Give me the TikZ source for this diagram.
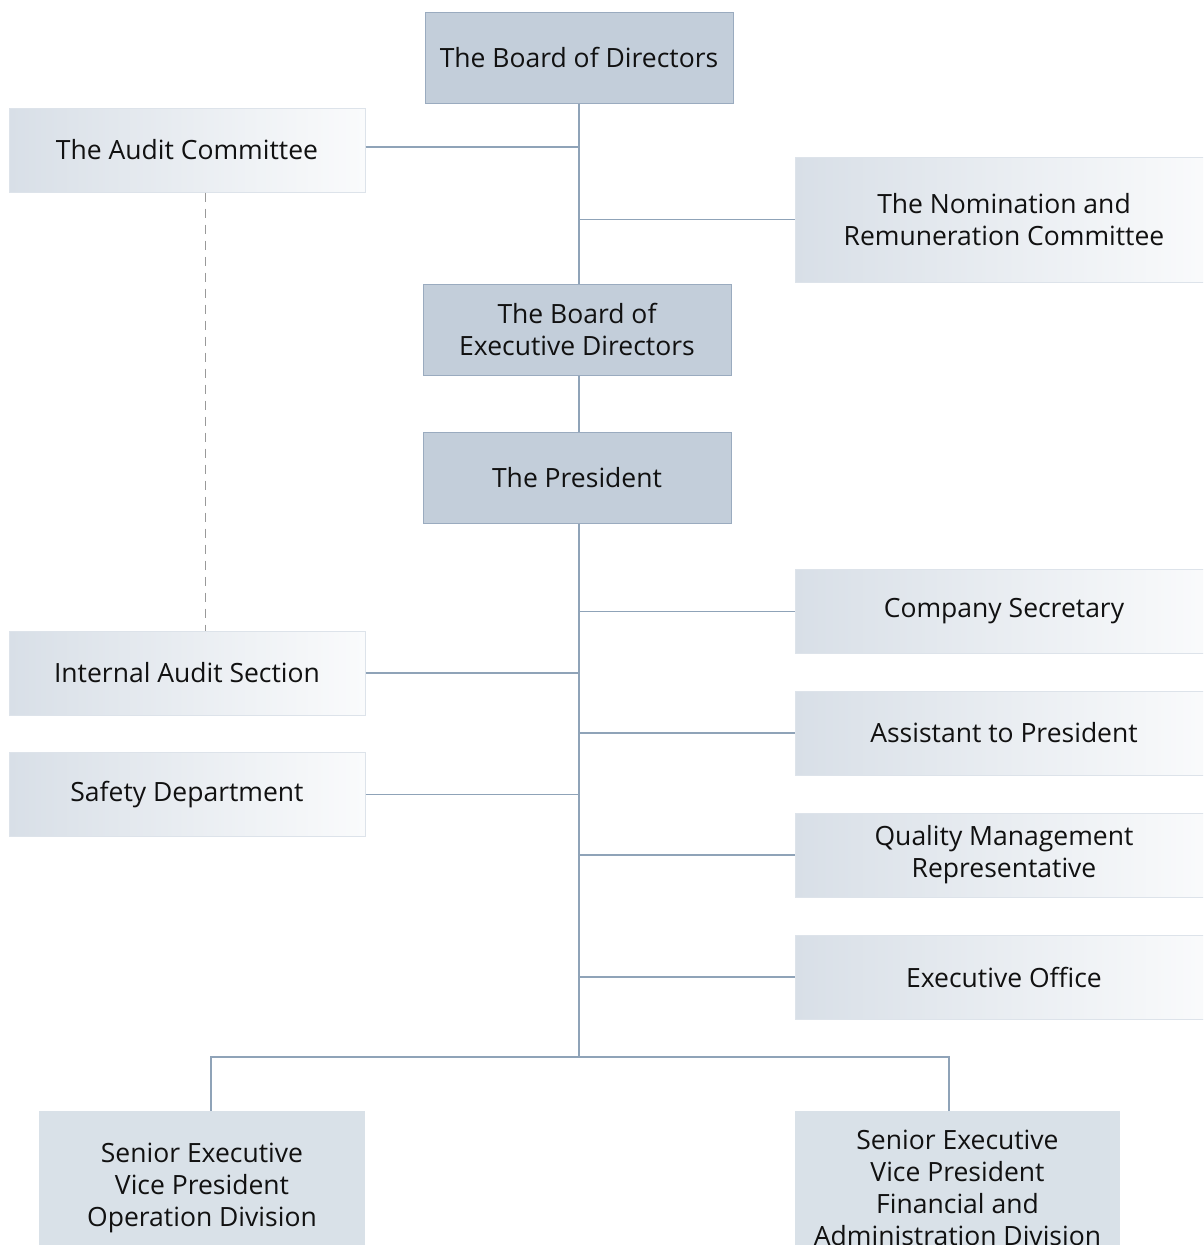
\documentclass[tikz,border=0pt]{standalone}
\usepackage{fontspec}
\setmainfont{Open Sans}
\definecolor{topfill}{HTML}{C3CEDA}
\definecolor{topline}{HTML}{9AABBF}
\definecolor{sideleft}{HTML}{D8DFE7}
\definecolor{sideright}{HTML}{FAFBFC}
\definecolor{sideline}{HTML}{DDE3EA}
\definecolor{botfill}{HTML}{D9E1E8}
\definecolor{wire}{HTML}{8FA3B8}
\definecolor{ink}{HTML}{111111}
\tikzset{
  every node/.style={font=\fontsize{26.5}{32}\selectfont, text=ink, align=center, inner sep=0pt},
  topbox/.style={draw=topline, fill=topfill, line width=1pt, minimum width=308pt, minimum height=91pt},
  sidebox/.style={draw=sideline, left color=sideleft, right color=sideright, line width=1pt, minimum height=84pt},
  leftbox/.style={sidebox, minimum width=356pt},
  rightbox/.style={sidebox, minimum width=418pt},
  botbox/.style={fill=botfill, minimum width=326pt, minimum height=154pt},
  wire/.style={draw=wire, line width=1.2pt},
  dashwire/.style={draw=black!40, line width=1pt, dash pattern=on 9pt off 7pt}
}
\begin{document}
\begin{tikzpicture}[x=1pt,y=-1pt]
  \clip (0,0) rectangle (1203,1245);
  % board level
  \node[topbox] (board) at (579,57.5) {The Board of Directors};
  \node[leftbox] (audit) at (187,150) {The Audit Committee};
  \node[rightbox, minimum height=125pt] (nomination) at (1004,219.5) {The Nomination and\\Remuneration Committee};
  \node[topbox] (execboard) at (577,329.5) {The Board of\\Executive Directors};
  \node[topbox] (president) at (577,477.5) {The President};
  % units under the president
  \node[rightbox] (secretary) at (1004,611.5) {Company Secretary};
  \node[leftbox] (internal) at (187,673) {Internal Audit Section};
  \node[rightbox] (assistant) at (1004,733) {Assistant to President};
  \node[leftbox] (safety) at (187,794.5) {Safety Department};
  \node[rightbox] (quality) at (1004,855) {Quality Management\\Representative};
  \node[rightbox] (office) at (1004,977) {Executive Office};
  % division heads
  \node[botbox] (operation) at (202,1188) {Senior Executive\\Vice President\\Operation Division};
  \node[botbox, minimum width=325pt] (finance) at (957.5,1188) {Senior Executive\\Vice President\\Financial and\\Administration Division};
  \coordinate (spine) at (579,1057);
  % connectors
  \draw[wire] (board.south) -- (execboard.north -| board.south);
  \draw[wire] ([yshift=3pt]audit.east) -- ([yshift=3pt]audit.east -| board.south);
  \draw[wire] (nomination.west) -- (nomination.west -| board.south);
  \draw[wire] (execboard.south -| board.south) -- (president.north -| board.south);
  \draw[wire] (president.south -| spine) -- (spine);
  \foreach \unit in {secretary,assistant,quality,office}
    \draw[wire] (\unit.west) -- (\unit.west -| spine);
  \foreach \unit in {internal,safety}
    \draw[wire] (\unit.east) -- (\unit.east -| spine);
  \draw[wire] (spine) -| ([xshift=9pt]operation.north);
  \draw[wire] (spine) -| ([xshift=-8.5pt]finance.north);
  \draw[dashwire] ([xshift=18pt]audit.south) -- ([xshift=18pt]internal.north);
\end{tikzpicture}
\end{document}
